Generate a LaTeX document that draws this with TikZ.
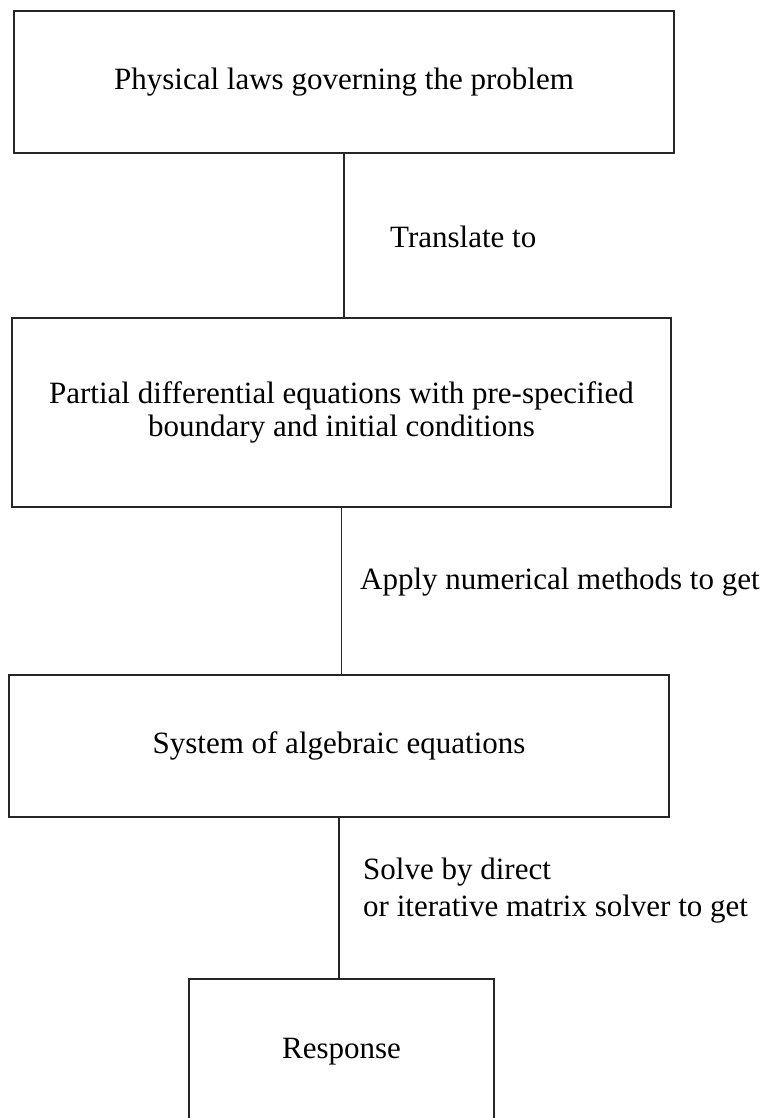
\documentclass[tikz,border=0pt]{standalone}
\usepackage{fontspec}
\setmainfont{Liberation Serif}
\begin{document}
\begin{tikzpicture}[x=1pt,y=-1pt,
  stagebox/.style={draw=black!85, line width=1.2pt, rectangle, inner sep=0pt, align=center, font=\fontsize{31}{33}\selectfont},
  link/.style={draw=black!85, line width=1.1pt},
  steplabel/.style={anchor=west, inner sep=0pt, align=left, font=\fontsize{31}{37}\selectfont}]
\useasboundingbox (0,0) rectangle (767,1118);
\node[stagebox, minimum width=660pt, minimum height=142pt] (b1) at (344,82) {Physical laws governing the problem};
\node[stagebox, minimum width=659pt, minimum height=189pt] (b2) at (341.5,412.5) {Partial differential equations with pre-specified\\boundary and initial conditions};
\node[stagebox, minimum width=660pt, minimum height=142pt] (b3) at (339,746) {System of algebraic equations};
\node[stagebox, minimum width=305pt, minimum height=146pt] (b4) at (341.5,1052) {Response};
\draw[link] (b1.south) -- (b1.south |- b2.north);
\draw[link] (b2.south) -- (b2.south |- b3.north);
\draw[link] (b3.south) -- (b3.south |- b4.north);
\node[steplabel] (t1) at (390,237) {Translate to};
\node[steplabel] (t2) at (360,582) {Apply numerical methods to get};
\node[steplabel] (t3) at (363,891) {Solve by direct\\or iterative matrix solver to get};
\end{tikzpicture}
\end{document}
